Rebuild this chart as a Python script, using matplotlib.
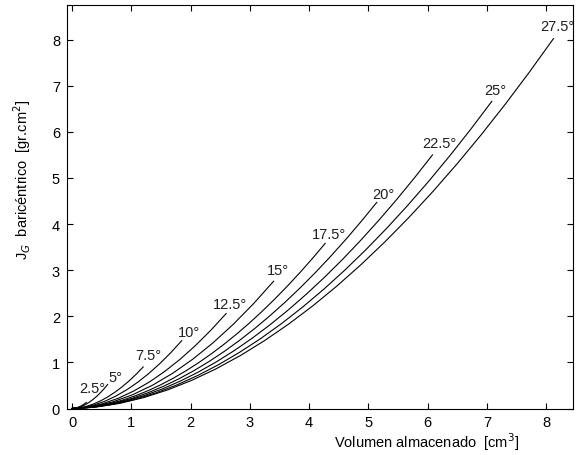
import matplotlib
matplotlib.use("Agg")
import matplotlib.pyplot as plt

plt.rcParams["font.family"] = ["Liberation Sans", "DejaVu Sans"]

# Curvas J_G vs volumen, una por angulo de inclinacion
angles = ["2.5°", "5°", "7.5°", "10°", "12.5°", "15°", "17.5°", "20°", "22.5°", "25°", "27.5°"]

vol = [
    [0, .024, .048, .072, .096, .12, .144, .168, .192, .216, .24],
    [0, .06, .12, .18, .24, .30, .36, .42, .48, .54, .60],
    [0, .12, .24, .36, .48, .60, .72, .84, .96, 1.08, 1.20],
    [0, .185, .37, .555, .74, .925, 1.11, 1.295, 1.48, 1.665, 1.85],
    [0, .26, .52, .78, 1.04, 1.30, 1.56, 1.82, 2.08, 2.34, 2.60],
    [0, .34, .68, 1.02, 1.36, 1.70, 2.04, 2.38, 2.72, 3.06, 3.40],
    [0, .2135, .427, .6405, .854, 1.0675, 1.281, 1.4945, 1.708, 1.9215, 2.135,
     2.3485, 2.562, 2.7755, 2.989, 3.2025, 3.416, 3.6295, 3.843, 4.0565, 4.27],
    [0, .257, .514, .771, 1.028, 1.285, 1.542, 1.799, 2.056, 2.313, 2.57,
     2.827, 3.084, 3.341, 3.598, 3.855, 4.112, 4.369, 4.626, 4.883, 5.14],
    [0, .304, .608, .912, 1.216, 1.52, 1.824, 2.128, 2.432, 2.736, 3.04,
     3.344, 3.648, 3.952, 4.256, 4.56, 4.864, 5.168, 5.472, 5.776, 6.08],
    [0, .354, .708, 1.062, 1.416, 1.77, 2.124, 2.478, 2.832, 3.186, 3.54,
     3.894, 4.248, 4.602, 4.956, 5.31, 5.664, 6.018, 6.372, 6.726, 7.08],
    [0, .406, .812, 1.218, 1.624, 2.03, 2.436, 2.842, 3.248, 3.654, 4.06,
     4.466, 4.872, 5.278, 5.684, 6.09, 6.496, 6.902, 7.308, 7.714, 8.12],
]

jg = [
    [0, .0018, .0066, .0140, .0239, .0361, .0505, .0672, .0860, .1070, .13],
    [0, .0073, .0265, .0561, .0955, .1442, .2021, .2688, .3441, .4279, .52],
    [0, .0127, .0458, .0970, .1652, .2497, .3498, .4652, .5956, .7406, .90],
    [0, .0207, .0748, .1585, .2699, .4078, .5714, .7598, .9728, 1.2097, 1.47],
    [0, .0290, .1049, .2221, .3782, .5714, .8007, 1.0648, 1.3633, 1.6952, 2.06],
    [0, .0389, .1405, .2975, .5067, .7656, 1.0728, 1.4266, 1.8266, 2.2712, 2.76],
    [0, .0140, .0505, .1070, .1822, .2753, .3859, .5134, .6573, .8173, .9931,
     1.1846, 1.3915, 1.6135, 1.8505, 2.1025, 2.3692, 2.6503, 2.9460, 3.2560, 3.58],
    [0, .0175, .0630, .1337, .2275, .3437, .4819, .6410, .8207, 1.0205, 1.2400,
     1.4791, 1.7375, 2.0146, 2.3105, 2.6252, 2.9582, 3.3091, 3.6784, 4.0655, 4.47],
    [0, .0216, .0776, .1645, .2800, .4230, .5929, .7887, 1.0098, 1.2557, 1.5257,
     1.8200, 2.1379, 2.4789, 2.8430, 3.2302, 3.6399, 4.0717, 4.5260, 5.0023, 5.50],
    [0, .0261, .0939, .1991, .3390, .5122, .7179, .9550, 1.2228, 1.5205, 1.8475,
     2.2038, 2.5887, 3.0017, 3.4426, 3.9114, 4.4076, 4.9304, 5.4805, 6.0573, 6.66],
    [0, .0314, .1131, .2398, .4082, .6167, .8646, 1.1501, 1.4725, 1.8310, 2.2247,
     2.6538, 3.1174, 3.6146, 4.1455, 4.7101, 5.3076, 5.9372, 6.5997, 7.2942, 8.02],
]

# posicion (esquina inferior izquierda) de cada etiqueta
label_xy = [(0.12, 0.30), (0.62, 0.53), (1.07, 1.00), (1.78, 1.50), (2.38, 2.11),
            (3.28, 2.86), (4.05, 3.64), (5.07, 4.50), (5.91, 5.60), (6.95, 6.76),
            (7.90, 8.15)]

fig = plt.figure(figsize=(5.8, 4.56), dpi=100)
ax = fig.add_axes([67 / 580, 46.5 / 456, 506 / 580, 403.5 / 456])

for xs, ys, lab, (lx, ly) in zip(vol, jg, angles, label_xy):
    ax.plot(xs, ys, color="black", lw=0.8)
    ax.text(lx, ly, lab, fontsize=10.5, ha="left", va="bottom", color="#202020")

ax.set_xlim(-0.085, 8.45)
ax.set_ylim(0, 8.75)
ax.set_xticks(range(0, 9))
ax.set_yticks(range(0, 9))
ax.tick_params(direction="in", length=4, width=0.8, top=True, right=True,
               labelsize=10.5, pad=5)
for s in ax.spines.values():
    s.set_linewidth(0.8)

fig.text(427 / 580, (456 - 453) / 456, "Volumen almacenado  [cm$^3$]",
         ha="center", va="bottom", fontsize=10.5)
fig.text(22 / 580, (456 - 180) / 456, "J$_G$  baricéntrico  [gr.cm$^2$]",
         ha="center", va="center", rotation=90, fontsize=10.5)

fig.savefig("out.png", dpi=100)
